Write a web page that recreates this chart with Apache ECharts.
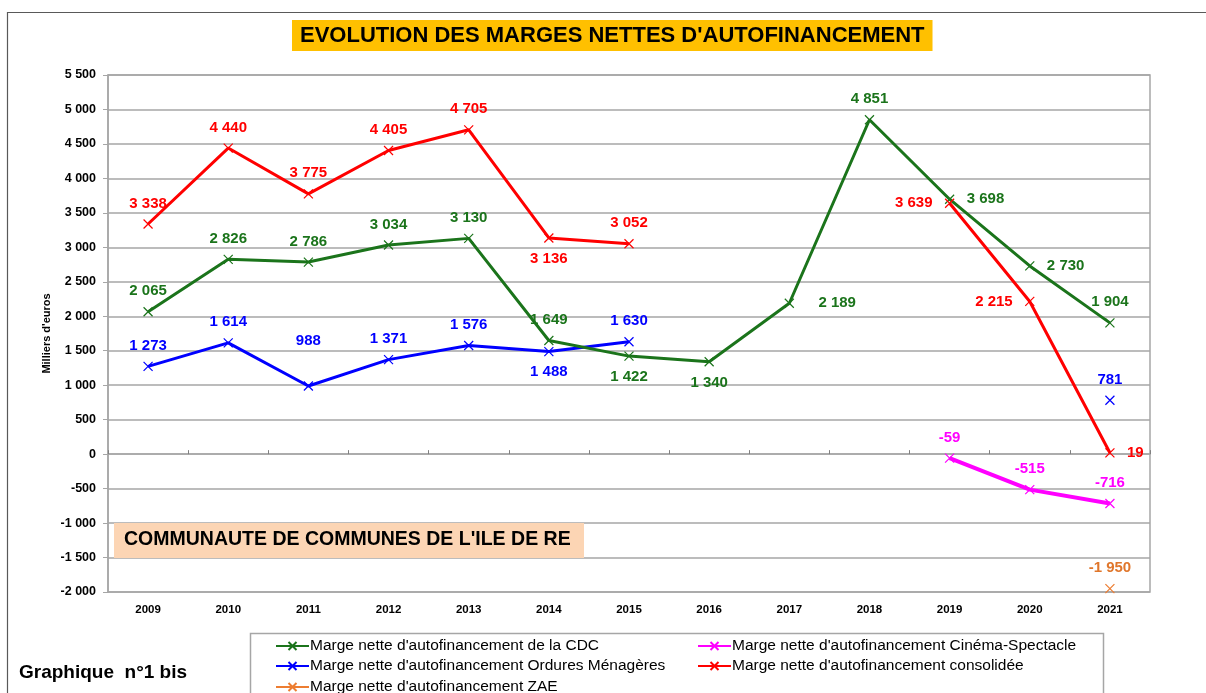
<!DOCTYPE html>
<html>
<head>
<meta charset="utf-8">
<script src="https://cdn.jsdelivr.net/npm/echarts@6/dist/echarts.min.js"></script>
<style>
html,body{margin:0;padding:0;background:#fff;}
#chart{width:1206px;height:693px;}
</style>
</head>
<body>
<div id="chart"></div>
<script>
// ---- data ----
const years = ['2009','2010','2011','2012','2013','2014','2015','2016','2017','2018','2019','2020','2021'];
const cdcValues = [2065, 2826, 2786, 3034, 3130, 1649, 1422, 1340, 2189, 4851, 3698, 2730, 1904];
const omValues = [1273, 1614, 988, 1371, 1576, 1488, 1630, null, null, null, null, null, 781];
const consoValues = [3338, 4440, 3775, 4405, 4705, 3136, 3052, null, null, null, 3639, 2215, 19];
const cinemaValues = [null, null, null, null, null, null, null, null, null, null, -59, -515, -716];
const zaeValues = [null, null, null, null, null, null, null, null, null, null, null, null, -1950];
const yTicks = {min: -2000, max: 5500, step: 500};

const seriesNames = [
  "Marge nette d'autofinancement de la CDC",
  "Marge nette d'autofinancement Ordures Ménagères",
  "Marge nette d'autofinancement consolidée",
  "Marge nette d'autofinancement Cinéma-Spectacle",
  "Marge nette d'autofinancement ZAE"
];

// ---- label placement (styling, separate from values) ----
const cdcPos = ['top','top','top','top','top','top','bottom','bottom','right','top','right','right','top'];
const omPos = ['top','top','top','top','top','bottom','top',null,null,null,null,null,'top'];
const consoPos = ['top','top','top','top','top','bottom','top',null,null,null,'left','left','right'];
const distOverride = {om: {2: 33}, cdc: {8: 24}};

function fmt(v) {
  const s = Math.abs(v).toString().replace(/\B(?=(\d{3})+(?!\d))/g, ' ');
  return (v < 0 ? '-' : '') + s;
}

const X = 'path://M0,0L10,10M10,0L0,10';
const FONT = 'Liberation Sans, Arial, sans-serif';

function mkData(values, pos, key) {
  return values.map((v, i) => {
    if (v === null) return null;
    const p = pos ? pos[i] : 'top';
    let d = 8;
    if (p === 'left' || p === 'right') d = 12;
    if (distOverride[key] && distOverride[key][i] !== undefined) d = distOverride[key][i];
    return {value: v, label: {position: p, distance: d}};
  });
}

function mkSeries(name, values, color, labelColor, pos, key, width) {
  return {
    name: name,
    type: 'line',
    xAxisIndex: 0,
    data: mkData(values, pos, key),
    connectNulls: false,
    symbol: X,
    symbolSize: 9,
    showAllSymbol: true,
    lineStyle: {color: color, width: width},
    itemStyle: {color: color, borderColor: color, borderWidth: 1.2},
    label: {
      show: true,
      color: labelColor,
      fontFamily: FONT,
      fontWeight: 'bold',
      fontSize: 15,
      formatter: p => fmt(p.value)
    },
    emphasis: {disabled: true},
    animation: false
  };
}

function mkLegend(name, left, top) {
  return {
    orient: 'horizontal', left: left, top: top, padding: 0,
    itemWidth: 33, itemHeight: 10,
    data: [name],
    textStyle: {fontFamily: FONT, fontSize: 15.5, color: '#000', padding: [0, 0, 0, -4]},
    selectedMode: false
  };
}

const green = '#1b741b';
const chart = echarts.init(document.getElementById('chart'), null, {renderer: 'canvas'});

const option = {
  backgroundColor: '#ffffff',
  animation: false,
  grid: {
    left: 108, right: 56, top: 75, bottom: 101,
    show: true, borderColor: '#a6a6a6', borderWidth: 1.5, backgroundColor: 'transparent'
  },
  title: {
    text: "EVOLUTION DES MARGES NETTES D'AUTOFINANCEMENT",
    left: 292, top: 21,
    backgroundColor: '#FFC000',
    padding: [5, 8, 4, 8],
    textStyle: {fontFamily: FONT, fontWeight: 'bold', fontSize: 22, color: '#000', lineHeight: 20}
  },
  legend: [
    mkLegend(seriesNames[0], 275, 638),
    mkLegend(seriesNames[1], 275, 658),
    mkLegend(seriesNames[4], 275, 679),
    mkLegend(seriesNames[3], 697, 638),
    mkLegend(seriesNames[2], 697, 658)
  ],
  xAxis: [
    {
      type: 'category', data: years, position: 'bottom', boundaryGap: true,
      axisLine: {show: false, onZero: false},
      axisTick: {show: false},
      axisLabel: {margin: 12, color: '#000', fontFamily: FONT, fontWeight: 'bold', fontSize: 11.5},
      splitLine: {show: false}
    },
    {
      type: 'category', data: years, position: 'bottom', boundaryGap: true,
      axisLine: {show: true, onZero: true, lineStyle: {color: '#a6a6a6', width: 1.5}},
      axisTick: {show: true, inside: true, length: 4, lineStyle: {color: '#808080'}},
      axisLabel: {show: false},
      splitLine: {show: false}
    }
  ],
  yAxis: {
    type: 'value',
    min: yTicks.min, max: yTicks.max, interval: yTicks.step,
    name: "Milliers d'euros",
    nameLocation: 'middle', nameGap: 56, nameRotate: 90, nameMoveOverlap: false,
    nameTextStyle: {fontFamily: FONT, fontSize: 11, color: '#000', fontWeight: 'bold'},
    axisLine: {show: true, lineStyle: {color: '#a6a6a6', width: 1.5}},
    axisTick: {show: true, length: 5, lineStyle: {color: '#a6a6a6'}},
    axisLabel: {margin: 12, color: '#000', fontFamily: FONT, fontWeight: 'bold', fontSize: 12.5, formatter: v => fmt(v)},
    splitLine: {show: true, lineStyle: {color: '#a6a6a6', width: 1.5}}
  },
  graphic: [
    {type: 'rect', shape: {x: 7.5, y: 12.5, width: 1300, height: 800}, style: {fill: 'none', stroke: '#595959', lineWidth: 1.2}, silent: true, z: -10},
    {type: 'rect', shape: {x: 250.5, y: 633.5, width: 853, height: 100}, style: {fill: '#fff', stroke: '#a6a6a6', lineWidth: 1.5}, silent: true, z: -5},
    {type: 'rect', shape: {x: 114, y: 523, width: 470, height: 35}, style: {fill: '#FCD5B4'}, silent: true, z: 5},
    {type: 'text', left: 124, top: 530, style: {text: "COMMUNAUTE DE COMMUNES DE L'ILE DE RE", fill: '#000', font: 'bold 19.5px "Liberation Sans", Arial, sans-serif'}, silent: true, z: 6},
    {type: 'text', left: 19, top: 663, style: {text: "Graphique  n°1 bis", fill: '#000', font: 'bold 19px "Liberation Sans", Arial, sans-serif'}, silent: true, z: 6}
  ],
  series: [
    mkSeries(seriesNames[1], omValues, '#0000ff', '#0000ff', omPos, 'om', 3),
    mkSeries(seriesNames[0], cdcValues, green, green, cdcPos, 'cdc', 3),
    mkSeries(seriesNames[2], consoValues, '#ff0000', '#ff0000', consoPos, 'conso', 3),
    mkSeries(seriesNames[3], cinemaValues, '#ff00ff', '#ff00ff', null, 'cin', 4),
    mkSeries(seriesNames[4], zaeValues, '#ed7d31', '#e0762b', null, 'zae', 3)
  ]
};
chart.setOption(option);
</script>
</body>
</html>
